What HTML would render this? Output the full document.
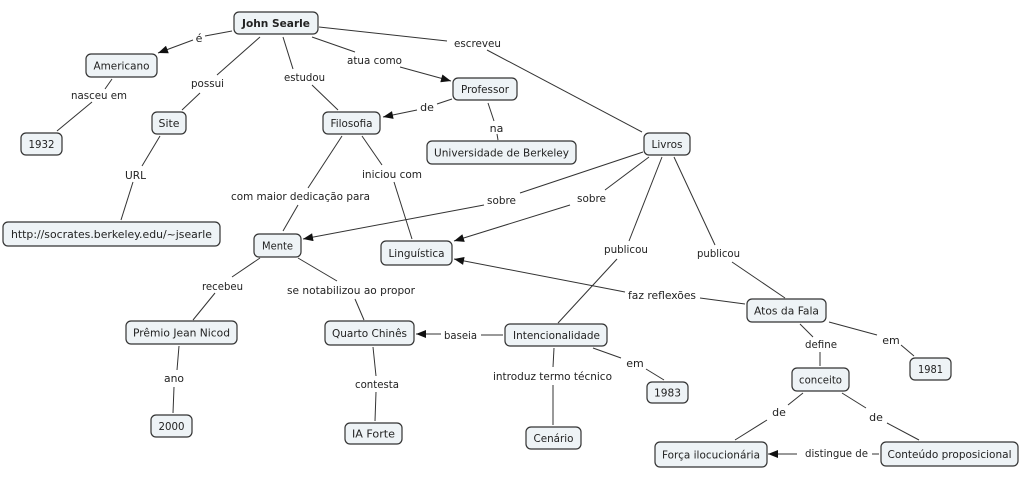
<!DOCTYPE html>
<html>
<head>
<meta charset="utf-8">
<style>
  html, body { margin:0; padding:0; background:#fff; }
  svg { display:block; }
  text { font-family: "DejaVu Sans", "Liberation Sans", sans-serif; font-size:11px; fill:#222; }
  .n { fill:#eef3f6; stroke:#333; stroke-width:1.2; }
  .l { stroke:#333; stroke-width:1; fill:none; }
  .a { stroke:#333; stroke-width:1; fill:none; marker-end:url(#arr); }
</style>
</head>
<body>
<svg width="1024" height="479" viewBox="0 0 1024 479" xmlns="http://www.w3.org/2000/svg">
<defs>
  <marker id="arr" viewBox="0 0 10 8" markerWidth="11" markerHeight="8" refX="10" refY="4" orient="auto" markerUnits="userSpaceOnUse">
    <path d="M0,0 L10,4 L0,8 z" fill="#111"/>
  </marker>
</defs>
<rect width="1024" height="479" fill="#fff"/>

<!-- connectors -->
<line class="l" x1="232" y1="31" x2="205" y2="36"/>
<line class="a" x1="193" y1="40" x2="158" y2="53"/>
<line class="l" x1="112" y1="79" x2="105" y2="89"/>
<line class="l" x1="92" y1="102" x2="57" y2="131"/>
<line class="l" x1="260" y1="37" x2="217" y2="75"/>
<line class="l" x1="200" y1="93" x2="182" y2="110"/>
<line class="l" x1="283" y1="37" x2="293" y2="69"/>
<line class="l" x1="312" y1="85" x2="338" y2="110"/>
<line class="l" x1="312" y1="37" x2="355" y2="52"/>
<line class="a" x1="400" y1="67" x2="451" y2="81"/>
<line class="l" x1="319" y1="27" x2="447" y2="41"/>
<line class="l" x1="487" y1="50" x2="642" y2="132"/>
<line class="l" x1="452" y1="99" x2="437" y2="104"/>
<line class="a" x1="417" y1="110" x2="383" y2="117"/>
<line class="l" x1="488" y1="103" x2="494" y2="121"/>
<line class="l" x1="497" y1="134" x2="498" y2="140"/>
<line class="l" x1="160" y1="136" x2="142" y2="166"/>
<line class="l" x1="133" y1="182" x2="121" y2="220"/>
<line class="l" x1="342" y1="136" x2="308" y2="188"/>
<line class="l" x1="298" y1="205" x2="283" y2="231"/>
<line class="l" x1="362" y1="136" x2="382" y2="165"/>
<line class="l" x1="394" y1="182" x2="412" y2="239"/>
<line class="l" x1="643" y1="152" x2="520" y2="193"/>
<line class="a" x1="484" y1="205" x2="303" y2="239"/>
<line class="l" x1="649" y1="157" x2="605" y2="190"/>
<line class="a" x1="570" y1="205" x2="454" y2="241"/>
<line class="l" x1="662" y1="157" x2="629" y2="241"/>
<line class="l" x1="617" y1="259" x2="558" y2="323"/>
<line class="l" x1="674" y1="157" x2="715" y2="245"/>
<line class="l" x1="732" y1="262" x2="785" y2="298"/>
<line class="l" x1="745" y1="304" x2="700" y2="298"/>
<line class="a" x1="625" y1="292" x2="454" y2="259"/>
<line class="l" x1="260" y1="258" x2="232" y2="277"/>
<line class="l" x1="215" y1="293" x2="193" y2="320"/>
<line class="l" x1="298" y1="258" x2="337" y2="281"/>
<line class="l" x1="355" y1="299" x2="364" y2="320"/>
<line class="l" x1="179" y1="346" x2="177" y2="370"/>
<line class="l" x1="174" y1="387" x2="173" y2="413"/>
<line class="l" x1="373" y1="347" x2="376" y2="376"/>
<line class="l" x1="376" y1="392" x2="375" y2="421"/>
<line class="l" x1="503" y1="335" x2="481" y2="335"/>
<line class="a" x1="441" y1="334" x2="416" y2="334"/>
<line class="l" x1="554" y1="348" x2="553" y2="367"/>
<line class="l" x1="553" y1="385" x2="553" y2="425"/>
<line class="l" x1="593" y1="348" x2="621" y2="358"/>
<line class="l" x1="646" y1="369" x2="664" y2="380"/>
<line class="l" x1="800" y1="324" x2="813" y2="337"/>
<line class="l" x1="820" y1="352" x2="820" y2="366"/>
<line class="l" x1="829" y1="322" x2="877" y2="335"/>
<line class="l" x1="901" y1="345" x2="914" y2="356"/>
<line class="l" x1="803" y1="393" x2="788" y2="405"/>
<line class="l" x1="767" y1="420" x2="735" y2="440"/>
<line class="l" x1="842" y1="393" x2="866" y2="408"/>
<line class="l" x1="887" y1="423" x2="919" y2="440"/>
<line class="l" x1="879" y1="454" x2="872" y2="454"/>
<line class="a" x1="797" y1="454" x2="768" y2="454"/>

<!-- link labels -->
<g text-anchor="middle">
<text x="199" y="42">é</text>
<text x="99" y="99" textLength="56" lengthAdjust="spacingAndGlyphs">nasceu em</text>
<text x="207.5" y="87" textLength="33" lengthAdjust="spacingAndGlyphs">possui</text>
<text x="304.5" y="81" textLength="41" lengthAdjust="spacingAndGlyphs">estudou</text>
<text x="374.5" y="64" textLength="55" lengthAdjust="spacingAndGlyphs">atua como</text>
<text x="477.5" y="47" textLength="47" lengthAdjust="spacingAndGlyphs">escreveu</text>
<text x="427" y="111">de</text>
<text x="496.5" y="132">na</text>
<text x="135.5" y="179" textLength="21" lengthAdjust="spacingAndGlyphs">URL</text>
<text x="300.5" y="200" textLength="139" lengthAdjust="spacingAndGlyphs">com maior dedicação para</text>
<text x="392" y="178" textLength="60" lengthAdjust="spacingAndGlyphs">iniciou com</text>
<text x="501.5" y="204" textLength="29" lengthAdjust="spacingAndGlyphs">sobre</text>
<text x="591.5" y="202" textLength="29" lengthAdjust="spacingAndGlyphs">sobre</text>
<text x="626" y="253" textLength="44" lengthAdjust="spacingAndGlyphs">publicou</text>
<text x="718.5" y="257" textLength="43" lengthAdjust="spacingAndGlyphs">publicou</text>
<text x="662" y="299" textLength="68" lengthAdjust="spacingAndGlyphs">faz reflexões</text>
<text x="222.5" y="290" textLength="41" lengthAdjust="spacingAndGlyphs">recebeu</text>
<text x="351" y="294" textLength="128" lengthAdjust="spacingAndGlyphs">se notabilizou ao propor</text>
<text x="174" y="382" textLength="20" lengthAdjust="spacingAndGlyphs">ano</text>
<text x="377" y="388" textLength="44" lengthAdjust="spacingAndGlyphs">contesta</text>
<text x="460.5" y="339" textLength="33" lengthAdjust="spacingAndGlyphs">baseia</text>
<text x="552.5" y="380" textLength="119" lengthAdjust="spacingAndGlyphs">introduz termo técnico</text>
<text x="635" y="367">em</text>
<text x="821" y="348" textLength="32" lengthAdjust="spacingAndGlyphs">define</text>
<text x="891" y="344">em</text>
<text x="779" y="416">de</text>
<text x="876" y="421">de</text>
<text x="836.5" y="457" textLength="63" lengthAdjust="spacingAndGlyphs">distingue de</text>
</g>

<!-- nodes -->
<rect class="n" x="234" y="12" width="84" height="22" rx="5"/>
<rect class="n" x="86" y="54" width="71" height="23" rx="5"/>
<rect class="n" x="21" y="133" width="41" height="22" rx="5"/>
<rect class="n" x="152" y="112" width="34" height="22" rx="5"/>
<rect class="n" x="323" y="112" width="57" height="22" rx="5"/>
<rect class="n" x="453" y="78" width="64" height="22" rx="5"/>
<rect class="n" x="427" y="141" width="149" height="23" rx="5"/>
<rect class="n" x="644" y="133" width="46" height="22" rx="5"/>
<rect class="n" x="3" y="222" width="217" height="24" rx="5"/>
<rect class="n" x="254" y="234" width="47" height="23" rx="5"/>
<rect class="n" x="381" y="241" width="71" height="24" rx="5"/>
<rect class="n" x="126" y="321" width="111" height="23" rx="5"/>
<rect class="n" x="151" y="415" width="41" height="22" rx="5"/>
<rect class="n" x="325" y="321" width="89" height="24" rx="5"/>
<rect class="n" x="345" y="423" width="57" height="21" rx="5"/>
<rect class="n" x="505" y="324" width="102" height="22" rx="5"/>
<rect class="n" x="526" y="427" width="55" height="22" rx="5"/>
<rect class="n" x="747" y="299" width="79" height="23" rx="5"/>
<rect class="n" x="910" y="358" width="41" height="22" rx="5"/>
<rect class="n" x="647" y="382" width="41" height="21" rx="5"/>
<rect class="n" x="792" y="368" width="57" height="23" rx="5"/>
<rect class="n" x="655" y="442" width="112" height="25" rx="5"/>
<rect class="n" x="881" y="442" width="137" height="24" rx="5"/>

<g text-anchor="middle">
<text x="276" y="27" font-weight="bold" textLength="68" lengthAdjust="spacingAndGlyphs">John Searle</text>
<text x="121.5" y="69.5" textLength="56" lengthAdjust="spacingAndGlyphs">Americano</text>
<text x="41.5" y="148" textLength="26" lengthAdjust="spacingAndGlyphs">1932</text>
<text x="169" y="127" textLength="21" lengthAdjust="spacingAndGlyphs">Site</text>
<text x="351.5" y="127" textLength="42" lengthAdjust="spacingAndGlyphs">Filosofia</text>
<text x="485" y="93" textLength="48" lengthAdjust="spacingAndGlyphs">Professor</text>
<text x="501.5" y="156.5" textLength="135" lengthAdjust="spacingAndGlyphs">Universidade de Berkeley</text>
<text x="667" y="148" textLength="31" lengthAdjust="spacingAndGlyphs">Livros</text>
<text x="111.5" y="238" textLength="201" lengthAdjust="spacingAndGlyphs">http://socrates.berkeley.edu/~jsearle</text>
<text x="277.5" y="249.5" textLength="31" lengthAdjust="spacingAndGlyphs">Mente</text>
<text x="416.5" y="257" textLength="56" lengthAdjust="spacingAndGlyphs">Linguística</text>
<text x="181.5" y="336.5" textLength="97" lengthAdjust="spacingAndGlyphs">Prêmio Jean Nicod</text>
<text x="171.5" y="430" textLength="26" lengthAdjust="spacingAndGlyphs">2000</text>
<text x="369.5" y="337" textLength="75" lengthAdjust="spacingAndGlyphs">Quarto Chinês</text>
<text x="373.5" y="437.5" textLength="43" lengthAdjust="spacingAndGlyphs">IA Forte</text>
<text x="556.5" y="339" textLength="87" lengthAdjust="spacingAndGlyphs">Intencionalidade</text>
<text x="553.5" y="442" textLength="40" lengthAdjust="spacingAndGlyphs">Cenário</text>
<text x="786.5" y="314.5" textLength="65" lengthAdjust="spacingAndGlyphs">Atos da Fala</text>
<text x="930.5" y="373" textLength="25" lengthAdjust="spacingAndGlyphs">1981</text>
<text x="667.5" y="396.5" textLength="27" lengthAdjust="spacingAndGlyphs">1983</text>
<text x="820.5" y="383.5" textLength="43" lengthAdjust="spacingAndGlyphs">conceito</text>
<text x="711" y="458.5" textLength="98" lengthAdjust="spacingAndGlyphs">Força ilocucionária</text>
<text x="949.5" y="458" textLength="124" lengthAdjust="spacingAndGlyphs">Conteúdo proposicional</text>
</g>
</svg>
</body>
</html>
